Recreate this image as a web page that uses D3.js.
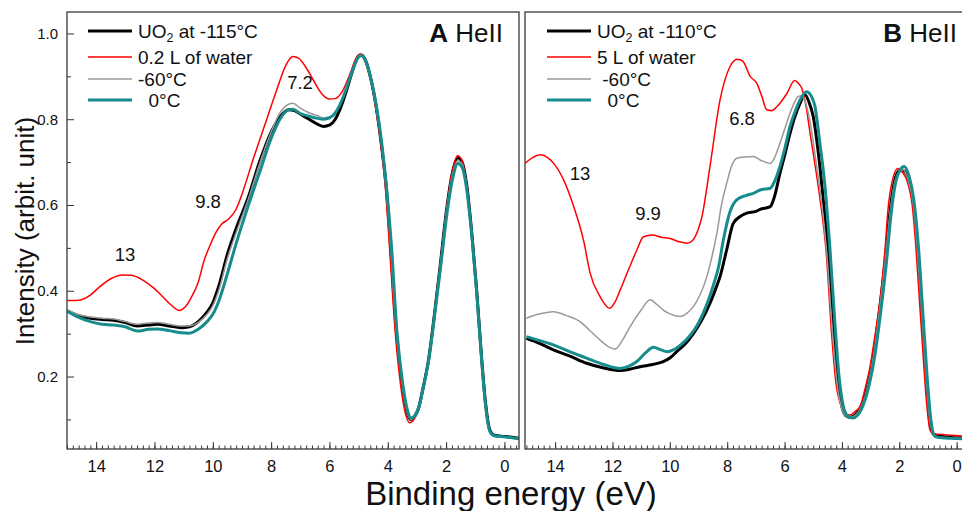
<!doctype html>
<html>
  <head>
    <script src="https://d3js.org/d3.v7.min.js"></script>
    <style>
      body { margin: 0; background: white; }
      svg text { font-family: "Liberation Sans", Arial, sans-serif; fill: #111; }
    </style>
  </head>
  <body>
    <svg class="chart" width=962 height=511></svg>
    <script>
        // left panel (A), energy in eV, intensity in arbit. unit
        var aBlack = [[15.0,0.353],[14.6,0.342],[14.2,0.336],[13.8,0.333],[13.4,0.331],[13.0,0.326],[12.6,0.318],[12.2,0.32],[11.9,0.322],[11.5,0.318],[11.1,0.314],[10.8,0.316],[10.5,0.328],[10.2,0.35],[10.0,0.372],[9.8,0.41],[9.5,0.485],[9.2,0.545],[8.8,0.615],[8.4,0.70],[8.0,0.77],[7.7,0.805],[7.4,0.822],[7.2,0.82],[7.0,0.812],[6.7,0.80],[6.4,0.788],[6.2,0.783],[6.0,0.786],[5.8,0.80],[5.6,0.83],[5.4,0.87],[5.2,0.915],[5.0,0.948],[4.9,0.95],[4.75,0.935],[4.6,0.9],[4.4,0.83],[4.2,0.73],[4.05,0.64],[3.9,0.5],[3.7,0.3],[3.5,0.18],[3.35,0.12],[3.22,0.1],[3.1,0.105],[2.95,0.125],[2.8,0.17],[2.6,0.24],[2.4,0.345],[2.2,0.46],[2.0,0.58],[1.8,0.67],[1.6,0.71],[1.45,0.7],[1.3,0.65],[1.1,0.52],[0.95,0.4],[0.8,0.26],[0.65,0.14],[0.5,0.075],[0.35,0.063],[0.1,0.061],[-0.2,0.059],[-0.5,0.056]];
        var aWater = [[15.0,0.377],[14.6,0.378],[14.2,0.39],[13.9,0.408],[13.5,0.428],[13.1,0.437],[12.8,0.436],[12.4,0.425],[12.0,0.405],[11.7,0.385],[11.4,0.365],[11.15,0.354],[10.95,0.362],[10.75,0.383],[10.5,0.42],[10.3,0.47],[10.1,0.505],[9.9,0.535],[9.7,0.555],[9.45,0.568],[9.2,0.59],[9.0,0.625],[8.6,0.71],[8.2,0.79],[7.8,0.87],[7.5,0.925],[7.25,0.946],[7.05,0.942],[6.8,0.92],[6.5,0.885],[6.25,0.858],[6.0,0.847],[5.8,0.848],[5.55,0.866],[5.3,0.905],[5.1,0.94],[4.95,0.952],[4.8,0.94],[4.6,0.895],[4.4,0.82],[4.2,0.72],[4.07,0.63],[3.92,0.48],[3.74,0.3],[3.54,0.17],[3.38,0.11],[3.25,0.092],[3.12,0.098],[2.97,0.12],[2.8,0.165],[2.6,0.235],[2.4,0.34],[2.2,0.455],[2.0,0.58],[1.8,0.675],[1.6,0.715],[1.45,0.703],[1.3,0.65],[1.1,0.52],[0.95,0.4],[0.8,0.26],[0.65,0.14],[0.5,0.072],[0.35,0.062],[0.1,0.06],[-0.2,0.058],[-0.5,0.056]];
        var aWarm60 = [[15.0,0.355],[14.6,0.344],[14.2,0.339],[13.8,0.336],[13.4,0.334],[13.0,0.328],[12.6,0.322],[12.2,0.325],[11.9,0.326],[11.5,0.322],[11.1,0.318],[10.8,0.318],[10.5,0.326],[10.2,0.345],[10.0,0.365],[9.8,0.4],[9.5,0.475],[9.2,0.535],[8.8,0.61],[8.4,0.695],[8.0,0.77],[7.7,0.815],[7.4,0.835],[7.25,0.837],[7.0,0.826],[6.7,0.815],[6.4,0.808],[6.2,0.803],[6.0,0.805],[5.8,0.815],[5.6,0.84],[5.4,0.875],[5.2,0.915],[5.0,0.948],[4.9,0.95],[4.75,0.935],[4.6,0.9],[4.4,0.83],[4.2,0.735],[4.05,0.64],[3.9,0.5],[3.7,0.3],[3.5,0.18],[3.35,0.12],[3.22,0.1],[3.1,0.105],[2.95,0.125],[2.8,0.17],[2.6,0.24],[2.4,0.345],[2.2,0.46],[2.0,0.58],[1.8,0.665],[1.6,0.703],[1.45,0.695],[1.3,0.645],[1.1,0.518],[0.95,0.398],[0.8,0.258],[0.65,0.138],[0.5,0.073],[0.35,0.062],[0.1,0.06],[-0.2,0.058],[-0.5,0.055]];
        var aWarm0 = [[15.0,0.352],[14.6,0.338],[14.2,0.328],[13.8,0.322],[13.4,0.32],[13.0,0.316],[12.6,0.306],[12.2,0.31],[11.9,0.311],[11.5,0.307],[11.1,0.302],[10.8,0.301],[10.5,0.31],[10.2,0.328],[10.0,0.345],[9.8,0.375],[9.5,0.44],[9.2,0.51],[8.8,0.595],[8.4,0.675],[8.0,0.755],[7.7,0.8],[7.4,0.822],[7.25,0.823],[7.0,0.813],[6.7,0.807],[6.4,0.802],[6.2,0.8],[6.0,0.803],[5.8,0.815],[5.6,0.84],[5.4,0.875],[5.2,0.915],[5.0,0.945],[4.9,0.948],[4.75,0.935],[4.6,0.9],[4.4,0.835],[4.2,0.74],[4.05,0.645],[3.88,0.51],[3.68,0.3],[3.48,0.18],[3.32,0.12],[3.2,0.103],[3.08,0.108],[2.93,0.13],[2.78,0.175],[2.58,0.245],[2.38,0.35],[2.18,0.46],[1.98,0.575],[1.78,0.66],[1.6,0.697],[1.45,0.688],[1.3,0.64],[1.1,0.515],[0.95,0.395],[0.8,0.255],[0.65,0.135],[0.5,0.072],[0.35,0.062],[0.1,0.06],[-0.2,0.058],[-0.5,0.055]];

        // right panel (B)
        var bBlack = [[15.0,0.289],[14.5,0.276],[14.06,0.262],[13.5,0.248],[12.9,0.231],[12.3,0.22],[11.73,0.214],[11.4,0.217],[11.04,0.223],[10.6,0.228],[10.23,0.235],[10.0,0.243],[9.76,0.258],[9.45,0.277],[9.18,0.30],[8.9,0.33],[8.6,0.371],[8.4,0.405],[8.25,0.433],[8.02,0.495],[7.79,0.557],[7.55,0.573],[7.32,0.581],[7.0,0.585],[6.85,0.59],[6.5,0.596],[6.35,0.62],[6.16,0.674],[5.98,0.72],[5.81,0.767],[5.62,0.81],[5.46,0.837],[5.29,0.857],[5.15,0.84],[5.0,0.806],[4.82,0.72],[4.65,0.612],[4.47,0.487],[4.3,0.33],[4.15,0.2],[4.0,0.13],[3.85,0.108],[3.7,0.105],[3.5,0.113],[3.3,0.135],[3.1,0.18],[2.9,0.25],[2.7,0.35],[2.5,0.465],[2.35,0.57],[2.2,0.645],[2.0,0.68],[1.85,0.68],[1.65,0.65],[1.5,0.6],[1.35,0.49],[1.2,0.34],[1.05,0.19],[0.92,0.09],[0.8,0.065],[0.5,0.06],[0.2,0.058],[-0.2,0.057]];
        var bWater = [[15.05,0.697],[14.8,0.71],[14.5,0.717],[14.25,0.71],[14.05,0.697],[13.7,0.658],[13.35,0.596],[13.0,0.515],[12.78,0.441],[12.43,0.386],[12.1,0.359],[11.9,0.375],[11.73,0.402],[11.4,0.456],[11.15,0.495],[10.92,0.526],[10.6,0.53],[10.3,0.525],[10.0,0.522],[9.7,0.515],[9.4,0.511],[9.2,0.518],[9.0,0.545],[8.88,0.573],[8.6,0.69],[8.25,0.845],[7.9,0.923],[7.65,0.94],[7.45,0.935],[7.2,0.9],[6.97,0.884],[6.8,0.855],[6.62,0.822],[6.45,0.82],[6.27,0.829],[5.92,0.86],[5.65,0.89],[5.5,0.882],[5.4,0.872],[5.25,0.83],[5.11,0.767],[4.93,0.69],[4.76,0.612],[4.55,0.49],[4.36,0.3],[4.2,0.18],[4.07,0.14],[3.9,0.115],[3.72,0.11],[3.55,0.118],[3.37,0.13],[3.2,0.17],[3.02,0.223],[2.85,0.295],[2.67,0.379],[2.5,0.495],[2.4,0.585],[2.25,0.655],[2.05,0.685],[1.9,0.678],[1.7,0.65],[1.55,0.6],[1.42,0.5],[1.28,0.36],[1.16,0.24],[1.05,0.14],[0.93,0.075],[0.8,0.066],[0.5,0.065],[0.2,0.063],[-0.2,0.061]];
        var bWarm60 = [[15.0,0.336],[14.6,0.345],[14.06,0.351],[13.6,0.342],[13.13,0.328],[12.8,0.308],[12.43,0.285],[12.1,0.268],[11.91,0.264],[11.65,0.285],[11.39,0.316],[11.0,0.355],[10.69,0.379],[10.45,0.368],[10.23,0.355],[9.95,0.345],[9.65,0.34],[9.4,0.348],[9.18,0.363],[8.95,0.39],[8.71,0.433],[8.48,0.495],[8.36,0.534],[8.2,0.6],[8.02,0.65],[7.85,0.69],[7.67,0.709],[7.35,0.712],[7.09,0.713],[6.85,0.705],[6.5,0.697],[6.35,0.71],[6.16,0.744],[5.98,0.78],[5.81,0.814],[5.65,0.84],[5.52,0.853],[5.4,0.855],[5.25,0.835],[5.1,0.79],[4.9,0.7],[4.7,0.6],[4.52,0.48],[4.35,0.32],[4.18,0.19],[4.02,0.128],[3.85,0.107],[3.7,0.105],[3.5,0.112],[3.3,0.133],[3.1,0.178],[2.9,0.248],[2.7,0.348],[2.5,0.462],[2.35,0.565],[2.2,0.64],[2.0,0.678],[1.87,0.682],[1.68,0.655],[1.52,0.605],[1.37,0.495],[1.22,0.35],[1.07,0.2],[0.93,0.095],[0.78,0.062],[0.5,0.058],[0.2,0.057],[-0.2,0.056]];
        var bWarm0 = [[15.0,0.293],[14.5,0.283],[14.06,0.274],[13.5,0.258],[12.9,0.243],[12.3,0.228],[11.73,0.219],[11.4,0.225],[11.15,0.235],[10.85,0.255],[10.57,0.268],[10.3,0.262],[10.1,0.258],[9.88,0.262],[9.6,0.275],[9.3,0.295],[9.0,0.325],[8.7,0.37],[8.45,0.42],[8.3,0.456],[8.13,0.52],[7.9,0.585],[7.67,0.612],[7.35,0.622],[7.09,0.627],[6.85,0.635],[6.5,0.639],[6.35,0.655],[6.16,0.69],[5.98,0.735],[5.81,0.783],[5.62,0.82],[5.46,0.845],[5.23,0.864],[5.08,0.855],[4.94,0.83],[4.78,0.75],[4.59,0.643],[4.42,0.5],[4.25,0.33],[4.1,0.2],[3.95,0.13],[3.8,0.108],[3.62,0.103],[3.45,0.11],[3.25,0.135],[3.05,0.18],[2.85,0.25],[2.65,0.35],[2.45,0.465],[2.3,0.57],[2.15,0.645],[1.97,0.682],[1.83,0.69],[1.65,0.665],[1.5,0.615],[1.33,0.5],[1.18,0.35],[1.03,0.2],[0.9,0.1],[0.75,0.06],[0.5,0.057],[0.2,0.056],[-0.2,0.055]];

        var xMajor = [14, 12, 10, 8, 6, 4, 2, 0];
        var yMajor = [0.2, 0.4, 0.6, 0.8, 1.0];
        var yMinor = [0.1, 0.3, 0.5, 0.7, 0.9];
        var legendA = ["UO|at -115°C", "0.2 L of water", "-60°C", "  0°C"];
        var legendB = ["UO|at -110°C", "5 L of water", " -60°C", "  0°C"];
        var peaksA = [[13, "13"], [9.8, "9.8"], [7.2, "7.2"]];
        var peaksB = [[13, "13"], [9.9, "9.9"], [6.8, "6.8"]];

        var colors = ["#000000", "#ff0000", "#999999", "#168c8c"];
        var widths = [3, 1.5, 1.5, 3];

        var svg = d3.select("svg");
        var yTop = 12, yBottom = 449;
        var yScale = d3.scaleLinear().domain([0.031, 1.05]).range([yBottom, yTop]);
        var fontFam = '"Liberation Sans", Arial, sans-serif';

        function panel(id, x0, x1, domain, series, legend, legX, tag, tagX, showY) {
            var xScale = d3.scaleLinear().domain(domain).range([x0, x1]);
            var g = svg.append("g");

            g.append("clipPath").attr("id", "clip" + id)
              .append("rect").attr("x", x0).attr("y", yTop).attr("width", x1 - x0).attr("height", yBottom - yTop);

            // x ticks (inward)
            var lo = Math.min(domain[0], domain[1]), hi = Math.max(domain[0], domain[1]);
            var minor = d3.range(-4, 151, 2).map(function(d){return d / 10;})
                .filter(function(d){return d >= lo && d <= hi;});
            g.append("g").attr("transform", "translate(0," + yBottom + ")")
              .call(d3.axisBottom(xScale).tickValues(minor).tickSize(-3.5).tickFormat(""))
              .call(function(a){ a.select(".domain").remove(); a.selectAll("line").attr("stroke", "#333"); });
            g.append("g").attr("transform", "translate(0," + yBottom + ")")
              .call(d3.axisBottom(xScale).tickValues(xMajor).tickSize(-7).tickPadding(11).tickFormat(d3.format("d")))
              .call(function(a){
                  a.select(".domain").remove();
                  a.selectAll("line").attr("stroke", "#333");
                  a.selectAll("text").style("font-size", "16.5px").attr("fill", "#111").style("font-family", fontFam);
              });

            if (showY) {
                g.append("g").attr("transform", "translate(" + x0 + ",0)")
                  .call(d3.axisLeft(yScale).tickValues(yMinor).tickSize(-4).tickFormat(""))
                  .call(function(a){ a.select(".domain").remove(); a.selectAll("line").attr("stroke", "#333"); });
                g.append("g").attr("transform", "translate(" + x0 + ",0)")
                  .call(d3.axisLeft(yScale).tickValues(yMajor).tickSize(-7).tickPadding(9).tickFormat(d3.format(".1f")))
                  .call(function(a){
                      a.select(".domain").remove();
                      a.selectAll("line").attr("stroke", "#333");
                      a.selectAll("text").style("font-size", "15px").attr("fill", "#111").style("font-family", fontFam);
                  });
            }

            var line = d3.line()
                .x(function(d){return xScale(d[0]);})
                .y(function(d){return yScale(d[1]);})
                .curve(d3.curveMonotoneX);

            var lines = g.append("g").attr("clip-path", "url(#clip" + id + ")");
            series.forEach(function(s, i){
                lines.append("path").datum(s)
                  .attr("d", line)
                  .attr("fill", "none")
                  .attr("stroke", colors[i])
                  .attr("stroke-width", widths[i])
                  .attr("stroke-linejoin", "round");
            });

            g.append("rect").attr("x", x0).attr("y", yTop)
              .attr("width", x1 - x0).attr("height", yBottom - yTop)
              .attr("fill", "none").attr("stroke", "#3a3a3a").attr("stroke-width", 1.3);

            // legend
            var rows = [31, 57, 79, 100];
            legend.forEach(function(t, i){
                g.append("line")
                  .attr("x1", legX).attr("x2", legX + 44)
                  .attr("y1", rows[i]).attr("y2", rows[i])
                  .attr("stroke", colors[i]).attr("stroke-width", widths[i]);
                var txt = g.append("text").attr("x", legX + 50).attr("y", rows[i] + 6.5)
                  .style("font-size", "19px").attr("xml:space", "preserve");
                if (t.indexOf("|") >= 0) {
                    var parts = t.split("|");
                    txt.append("tspan").text(parts[0]);
                    txt.append("tspan").text("2").style("font-size", "12.5px").attr("dy", 4.5);
                    txt.append("tspan").text(" " + parts[1]).attr("dy", -4.5);
                } else {
                    txt.text(t);
                }
            });

            // panel tag
            var tg = g.append("text").attr("x", tagX).attr("y", 41.5)
              .attr("text-anchor", "end").style("font-size", "26px");
            tg.append("tspan").text(tag).style("font-weight", "bold");
            tg.append("tspan").text(" HeII");

            return xScale;
        }

        panel("A", 67, 519, [15, -0.5], [aBlack, aWater, aWarm60, aWarm0], legendA, 88, "A", 503, true);
        panel("B", 525, 971, [15.05, -0.5], [bBlack, bWater, bWarm60, bWarm0], legendB, 547, "B", 957, false);

        // peak labels
        var labA = [[125, 261], [208, 208], [300, 89]];
        var labB = [[580, 180], [648, 220], [742, 125]];
        peaksA.forEach(function(p, i){
            svg.append("text").attr("x", labA[i][0]).attr("y", labA[i][1])
              .attr("text-anchor", "middle").style("font-size", "18.5px").text(p[1]);
        });
        peaksB.forEach(function(p, i){
            svg.append("text").attr("x", labB[i][0]).attr("y", labB[i][1])
              .attr("text-anchor", "middle").style("font-size", "18.5px").text(p[1]);
        });

        // axis titles
        svg.append("text").attr("x", 511).attr("y", 505)
          .attr("text-anchor", "middle").style("font-size", "33px")
          .text("Binding energy (eV)");
        svg.append("text")
          .attr("transform", "translate(34,231) rotate(-90)")
          .attr("text-anchor", "middle").style("font-size", "26px")
          .text("Intensity (arbit. unit)");
    </script>
  </body>
</html>
